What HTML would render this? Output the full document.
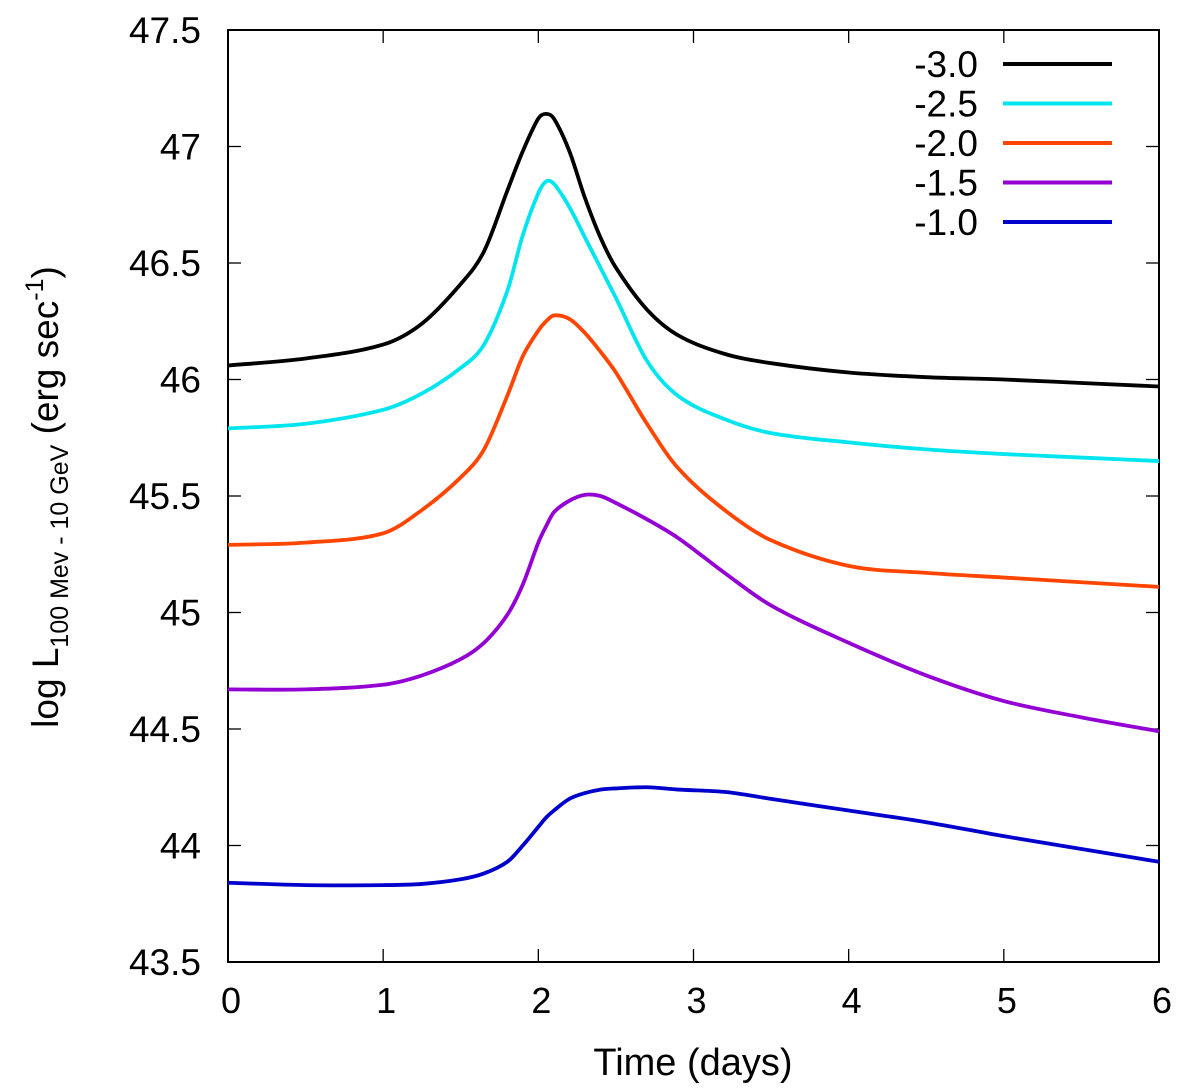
<!DOCTYPE html>
<html><head><meta charset="utf-8"><style>
html,body{margin:0;padding:0;background:#fff}
svg{display:block;font-family:"Liberation Sans",sans-serif}
</style></head><body>
<svg id="chart" width="1200" height="1089" viewBox="0 0 1200 1089">
<g id="grid"></g>
<g id="series"></g>
<g id="legend"></g>
</svg>
<script>
const times = [0,0.5,1,1.25,1.5,1.65,1.8,1.9,2,2.05,2.1,2.2,2.3,2.4,2.5,2.7,2.9,3.2,3.5,4,4.5,5,5.5,6];
const seriesNames = ["-3.0","-2.5","-2.0","-1.5","-1.0"];
const seriesColors = ["#000000","#00e5ee","#ff4500","#9400d3","#0000cd"];
const valsM30 = [46.06,46.09,46.15,46.24,46.41,46.55,46.81,46.98,47.12,47.14,47.12,46.98,46.78,46.61,46.48,46.30,46.19,46.11,46.07,46.03,46.01,46.00,45.985,45.97];
const valsM25 = [45.79,45.81,45.87,45.94,46.05,46.15,46.38,46.62,46.80,46.85,46.84,46.74,46.61,46.48,46.35,46.08,45.93,45.83,45.77,45.73,45.70,45.68,45.665,45.65];
const valsM20 = [45.29,45.30,45.34,45.44,45.58,45.70,45.93,46.10,46.21,46.25,46.275,46.26,46.20,46.12,46.03,45.81,45.62,45.44,45.31,45.20,45.17,45.15,45.13,45.11];
const valsM15 = [44.67,44.67,44.69,44.73,44.80,44.87,44.99,45.12,45.30,45.37,45.43,45.48,45.505,45.50,45.47,45.40,45.32,45.17,45.03,44.87,44.73,44.62,44.55,44.49];
const valsM10 = [43.84,43.83,43.83,43.835,43.855,43.88,43.93,44.00,44.08,44.12,44.15,44.20,44.225,44.24,44.245,44.25,44.24,44.23,44.20,44.15,44.10,44.04,43.985,43.93];
const allVals = [valsM30,valsM25,valsM20,valsM15,valsM10];
const xTicks = [0,1,2,3,4,5,6];
const yTicks = [43.5,44,44.5,45,45.5,46,46.5,47,47.5];
const yTickLabels = ["43.5","44","44.5","45","45.5","46","46.5","47","47.5"];

const L=228,R=1159,T=30,B=962;
const xs = v => L + (v-0)/(6-0)*(R-L);
const ys = v => B - (v-43.5)/(47.5-43.5)*(B-T);
const NS="http://www.w3.org/2000/svg";
function mk(tag, attrs, parent){const e=document.createElementNS(NS,tag);for(const k in attrs)e.setAttribute(k,attrs[k]);parent.appendChild(e);return e;}
const svg=document.getElementById('chart');
const grid=document.getElementById('grid');
const ser=document.getElementById('series');
const leg=document.getElementById('legend');

xTicks.forEach(t=>{
  const x=xs(t);
  const l1=mk('line',{x1:x,x2:x,y1:B,y2:B-13,stroke:'#000','stroke-width':1.3},grid);
  
  
  const l2=mk('line',{x1:x,x2:x,y1:T,y2:T+13,stroke:'#000','stroke-width':1.3},grid);
  
  
  const tx=mk('text',{x:x+3,y:1013,'text-anchor':'middle','font-size':36},grid);
  tx.textContent=String(t);
  
  
});
yTicks.forEach((t,i)=>{
  const y=ys(t);
  const l1=mk('line',{x1:L,x2:L+13,y1:y,y2:y,stroke:'#000','stroke-width':1.3},grid);
  
  
  const l2=mk('line',{x1:R,x2:R-13,y1:y,y2:y,stroke:'#000','stroke-width':1.3},grid);
  
  
  const tx=mk('text',{x:201,y:y+13,'text-anchor':'end','font-size':37},grid);
  tx.textContent=yTickLabels[i];
  
  
});
const frame=mk('rect',{x:L,y:T,width:R-L,height:B-T,fill:'none',stroke:'#000','stroke-width':2},grid);



const xl=mk('text',{x:693,y:1075,'text-anchor':'middle','font-size':38},svg);
xl.textContent='Time (days)';



const yl=mk('text',{x:0,y:0,'font-size':37,transform:'translate(58,497) rotate(-90)','text-anchor':'middle'},svg);


yl.innerHTML='log L<tspan font-size="25" dy="10">100 Mev - 10 GeV</tspan><tspan dy="-10"> (erg sec</tspan><tspan font-size="25" dy="-15">-1</tspan><tspan dy="15">)</tspan>';

function path(vals){
  const n=times.length;
  const m=vals.map((v,i)=>{
    const a=Math.max(0,i-1),b=Math.min(n-1,i+1);
    return (vals[b]-vals[a])/(times[b]-times[a]);
  });
  let d='M'+xs(times[0])+','+ys(vals[0]);
  for(let i=0;i<n-1;i++){
    const dt=times[i+1]-times[i];
    const c1x=xs(times[i]+dt/3), c1y=ys(vals[i]+m[i]*dt/3);
    const c2x=xs(times[i+1]-dt/3), c2y=ys(vals[i+1]-m[i+1]*dt/3);
    d+=' C'+c1x+','+c1y+' '+c2x+','+c2y+' '+xs(times[i+1])+','+ys(vals[i+1]);
  }
  return d;
}
allVals.forEach((v,i)=>{
  const pa=mk('path',{d:path(v),fill:'none',stroke:seriesColors[i],'stroke-width':3.8,'stroke-linejoin':'round'},ser);
  
  
  const ly=64+i*39.5;
  const lt=mk('text',{x:978,y:ly+13,'text-anchor':'end','font-size':37},leg);
  lt.textContent=seriesNames[i];
  
  
  const ll=mk('line',{x1:1003,x2:1112,y1:ly,y2:ly,stroke:seriesColors[i],'stroke-width':4},leg);
  
  
});
</script>
</body></html>
